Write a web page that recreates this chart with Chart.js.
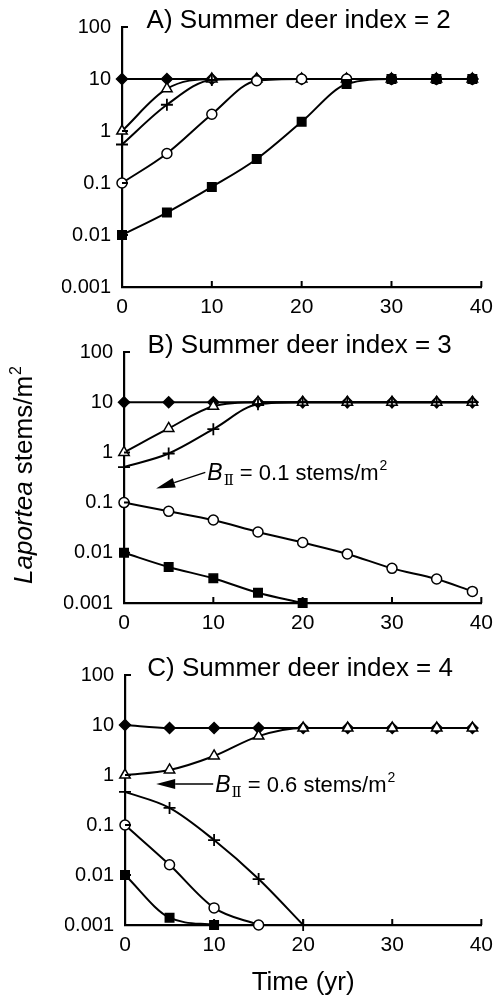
<!DOCTYPE html>
<html>
<head>
<meta charset="utf-8">
<script src="https://cdn.jsdelivr.net/npm/chart.js@4"></script>
<style>
  body { margin: 0; background: #fff; }
  #wrap { position: relative; width: 501px; height: 998px; }
  canvas { position: absolute; left: 0; }
</style>
</head>
<body>
<div id="wrap">
  <canvas id="chartA" width="501" height="320" style="top:0px"></canvas>
  <canvas id="chartB" width="501" height="320" style="top:320px"></canvas>
  <canvas id="chartC" width="501" height="358" style="top:640px"></canvas>
</div>
<script>
// time points where markers sit
const years = [0, 5, 10, 15, 20, 25, 30, 35, 39];
const xTicks = [0, 10, 20, 30, 40];
const yTicks = [0.001, 0.01, 0.1, 1, 10, 100];

// A) summer deer index = 2
const aDiamond  = [10, 10, 10, 10, 10, 10, 10, 10, 10];
const aTriangle = [1, 6.5, 10, 10, 10, 10, 10, 10, 10];
const aPlus     = [0.55, 3.2, 9.6, 10, 10, 10, 10, 10, 10];
const aCircle   = [0.1, 0.37, 2.1, 9.3, 10, 10, 10, 10, 10];
const aSquare   = [0.01, 0.027, 0.084, 0.29, 1.5, 8, 10, 10, 10];

// B) summer deer index = 3
const bDiamond  = [10, 10, 10, 10, 10, 10, 10, 10, 10];
const bTriangle = [1, 3.0, 8.3, 10, 10, 10, 10, 10, 10];
const bPlus     = [0.51, 0.95, 2.9, 9.1, 10, 10, 10, 10, 10];
const bCircle   = [0.1, 0.067, 0.045, 0.026, 0.016, 0.0095, 0.0049, 0.003, 0.0017];
const bSquare   = [0.01, 0.0052, 0.0031, 0.0016, 0.001];

// C) summer deer index = 4
const cDiamond  = [10, 8.7, 8.7, 8.7, 8.7, 8.7, 8.7, 8.7, 8.7];
const cTriangle = [1, 1.26, 2.4, 6.0, 8.7, 8.7, 8.7, 8.7, 8.7];
const cPlus     = [0.46, 0.22, 0.05, 0.0083, 0.001];
const cCircle   = [0.1, 0.016, 0.0022, 0.001];
const cSquare   = [0.01, 0.0014, 0.001];

const FONT = '"Liberation Sans", Arial, Helvetica, sans-serif';

// marker style per series (square drawn on top)
function makeSets(square, circle, plus, triangle, diamond) {
    const pts = vals => vals.map((v, i) => ({ x: years[i], y: v }));
    const base = {
        borderColor: '#000',
        borderWidth: 2,
        pointBorderColor: '#000',
        pointBorderWidth: 1.5,
        cubicInterpolationMode: 'monotone',
        clip: false,
    };
    return [
        { ...base, data: pts(square),   pointStyle: 'rect',    pointRadius: 6, pointBackgroundColor: '#000' },
        { ...base, data: pts(circle),   pointStyle: 'circle',  pointRadius: 5, pointBackgroundColor: '#fff' },
        { ...base, data: pts(plus),     pointStyle: 'cross',   pointRadius: 6, pointBackgroundColor: '#000', pointBorderWidth: 1.8 },
        { ...base, data: pts(triangle), pointStyle: 'triangle', pointRadius: 6, pointBackgroundColor: '#fff' },
        { ...base, data: pts(diamond),  pointStyle: 'rectRot', pointRadius: 5.5, pointBackgroundColor: '#000' },
    ];
}

// draws titles, inward ticks, arrows and labels
const decor = {
    id: 'decor',
    afterDraw(chart, args, opts) {
        const { ctx, chartArea: a, scales: { x, y } } = chart;
        ctx.save();
        ctx.strokeStyle = '#000';
        ctx.fillStyle = '#000';
        ctx.lineWidth = 2;

        ctx.beginPath();
        xTicks.forEach(v => {
            if (v === 0) return;
            const px = x.getPixelForValue(v);
            ctx.moveTo(px, a.bottom);
            ctx.lineTo(px, a.bottom - 6);
        });
        yTicks.forEach(v => {
            const py = y.getPixelForValue(v);
            ctx.moveTo(a.left, py);
            ctx.lineTo(a.left + 6, py);
        });
        ctx.stroke();

        // panel title
        ctx.font = '26px ' + FONT;
        ctx.textAlign = 'center';
        ctx.textBaseline = 'alphabetic';
        ctx.fillText(opts.title, (a.left + a.right) / 2 - 3, a.top + 1);

        // B_II arrow note
        if (opts.note) {
            const n = opts.note;
            const tx = x.getPixelForValue(n.tail[0]), ty = y.getPixelForValue(n.tail[1]);
            const hx = x.getPixelForValue(n.tip[0]), hy = y.getPixelForValue(n.tip[1]);
            const ang = Math.atan2(hy - ty, hx - tx);
            const len = 19, half = 5;
            const bx = hx - len * Math.cos(ang), by = hy - len * Math.sin(ang);
            ctx.lineWidth = 1.4;
            ctx.beginPath();
            ctx.moveTo(tx, ty);
            ctx.lineTo(bx, by);
            ctx.stroke();
            ctx.beginPath();
            ctx.moveTo(hx, hy);
            ctx.lineTo(bx + half * Math.sin(ang), by - half * Math.cos(ang));
            ctx.lineTo(bx - half * Math.sin(ang), by + half * Math.cos(ang));
            ctx.closePath();
            ctx.fill();

            ctx.textAlign = 'left';
            let cx = tx + 2;
            const base = ty + 8;
            ctx.font = 'italic 23px ' + FONT;
            ctx.fillText('B', cx, base);
            cx += ctx.measureText('B').width + 1;
            ctx.font = '15px "DejaVu Serif", "DejaVu Sans", serif';
            ctx.fillText('\u2161', cx, base + 5);
            cx += ctx.measureText('\u2161').width + 6;
            ctx.font = '22px ' + FONT;
            ctx.fillText(n.text, cx, base);
            cx += ctx.measureText(n.text).width + 1;
            ctx.font = '14px ' + FONT;
            ctx.fillText('2', cx, base - 10);
        }

        // y axis label (middle panel)
        if (opts.yTitle) {
            ctx.save();
            ctx.translate(32, (a.top + a.bottom) / 2 - 2);
            ctx.rotate(-Math.PI / 2);
            ctx.font = 'italic 26px ' + FONT;
            const w1 = ctx.measureText('Laportea').width;
            ctx.font = '26px ' + FONT;
            const w2 = ctx.measureText(' stems/m').width;
            ctx.font = '16px ' + FONT;
            const w3 = ctx.measureText('2').width;
            let cx = -(w1 + w2 + w3) / 2;
            ctx.textAlign = 'left';
            ctx.font = 'italic 26px ' + FONT;
            ctx.fillText('Laportea', cx, 0);
            cx += w1;
            ctx.font = '26px ' + FONT;
            ctx.fillText(' stems/m', cx, 0);
            cx += w2;
            ctx.font = '16px ' + FONT;
            ctx.fillText('2', cx + 1, -11);
            ctx.restore();
        }

        // x axis label (bottom panel)
        if (opts.xTitle) {
            ctx.font = '26px ' + FONT;
            ctx.textAlign = 'center';
            ctx.fillText(opts.xTitle, (a.left + a.right) / 2, a.bottom + 65);
        }
        ctx.restore();
    }
};

function createPanel(id, datasets, pad, decorOpts) {
    const ctx = document.getElementById(id).getContext('2d');
    return new Chart(ctx, {
        type: 'line',
        data: { datasets: datasets },
        options: {
            responsive: false,
            animation: false,
            events: [],
            layout: { padding: pad },
            scales: {
                x: {
                    type: 'linear',
                    min: 0,
                    max: 40,
                    grid: { display: false, drawTicks: false },
                    border: { display: true, color: '#000', width: 2.2 },
                    ticks: { stepSize: 10, padding: 8, color: '#000', font: { family: FONT, size: 21 } },
                    afterFit: s => { s.height = 30; },
                },
                y: {
                    type: 'logarithmic',
                    min: 0.001,
                    max: 100,
                    grid: { display: false, drawTicks: false },
                    border: { display: true, color: '#000', width: 2.2 },
                    afterBuildTicks: s => { s.ticks = yTicks.map(v => ({ value: v })); },
                    ticks: {
                        autoSkip: false,
                        padding: 11,
                        color: '#000',
                        font: { family: FONT, size: 20 },
                        callback: v => String(v),
                    },
                    afterFit: s => { s.width = 60; },
                },
            },
            plugins: {
                legend: { display: false },
                tooltip: { enabled: false },
                decor: decorOpts,
            },
        },
        plugins: [decor],
    });
}

createPanel('chartA', makeSets(aSquare, aCircle, aPlus, aTriangle, aDiamond),
    { left: 62, right: 14, top: 27, bottom: 3 },
    { title: 'A) Summer deer index = 2' });

createPanel('chartB', makeSets(bSquare, bCircle, bPlus, bTriangle, bDiamond),
    { left: 64, right: 14, top: 32, bottom: 7 },
    { title: 'B) Summer deer index = 3', yTitle: true,
      note: { tip: [3.6, 0.19], tail: [9.1, 0.4], text: '= 0.1 stems/m' } });

createPanel('chartC', makeSets(cSquare, cCircle, cPlus, cTriangle, cDiamond),
    { left: 65, right: 14, top: 35, bottom: 43 },
    { title: 'C) Summer deer index = 4', xTitle: 'Time (yr)',
      note: { tip: [3.5, 0.66], tail: [9.9, 0.66], text: '= 0.6 stems/m' } });
</script>
</body>
</html>
